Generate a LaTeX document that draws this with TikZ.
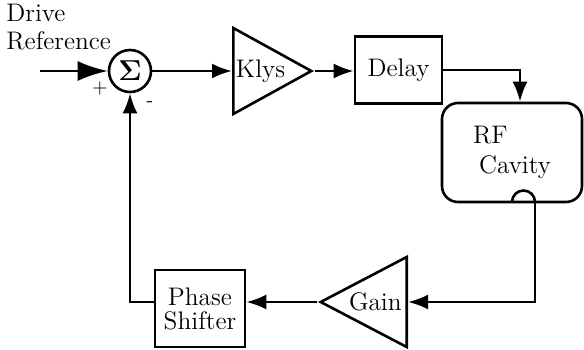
\documentclass[tikz,border=0pt]{standalone}
\usepackage{amsmath}
\usepackage{tikz}
\usetikzlibrary{arrows.meta,
    positioning,
    shapes.geometric}

\newcommand{\lblfont}{\fontsize{12.7}{15}\selectfont}
\tikzset{
    blk/.style={draw, line width=1.3pt, font=\lblfont, align=center, inner sep=0pt},
    amp/.style={draw, line width=1.3pt, font=\lblfont, isosceles triangle,
        isosceles triangle stretches, inner sep=0pt},
    arr/.style={line width=1.3pt, -{Latex[length=10pt,width=7.5pt]}},
    bigarr/.style={line width=1.3pt, -{Latex[length=15pt,width=10pt]}}
}

\begin{document}
\begin{tikzpicture}[x=0.5pt,y=0.5pt]
                  \useasboundingbox (0,0) rectangle (584,-349);
                  \node[font=\lblfont, align=left, anchor=north west, inner sep=0pt] (drive) at (6,-4) {Drive\\[-1pt]Reference};
                  \coordinate (in) at (40,-71);
                  \node[draw, circle, line width=1.3pt, minimum size=21pt, inner sep=0pt] (sum) at (130,-71) {\Large$\boldsymbol{\Sigma}$};
                  \node (plus) at (100,-88) {+};
                  \node (minus) at (150,-104) {-};
                  \node[amp, minimum width=43pt, minimum height=39pt, anchor=lower side] (klys) at (232,-71) {Klys};
                  \node[blk, minimum width=43.5pt, minimum height=33.5pt] (delay) at (398.5,-70) {Delay};
                  \node[blk, rounded corners=8pt, minimum width=70pt, minimum height=49.5pt, align=left] (cavity) at (512,-152.5) {RF\\\hspace*{3pt}Cavity};
                  \coordinate (tap) at (535,-202);
                  \node[amp, shape border rotate=180, minimum width=45pt, minimum height=43pt, anchor=lower side] (gain) at (408,-302) {Gain};
                  \node[blk, minimum width=45pt, minimum height=38.5pt] (phase) at (200,-308.5) {Phase\\[-3pt]Shifter};
                  \draw[line width=1.3pt] (512,-202) arc[start angle=180, end angle=0, radius=11.5];
                  \draw[bigarr] (in) -- (sum);
                  \draw[arr] (sum) -- (klys.lower side);
                  \draw[arr] (klys.apex) -- (delay.west |- klys.apex);
                  \draw[arr] (delay) -| ([xshift=4pt]cavity.north);
                  \draw[arr] (tap) |- (gain.lower side);
                  \draw[arr] (gain.apex) -- (phase.east |- gain.apex);
                  \draw[arr] (phase.west |- gain.apex) -| (sum);
              \end{tikzpicture}
\end{document}
